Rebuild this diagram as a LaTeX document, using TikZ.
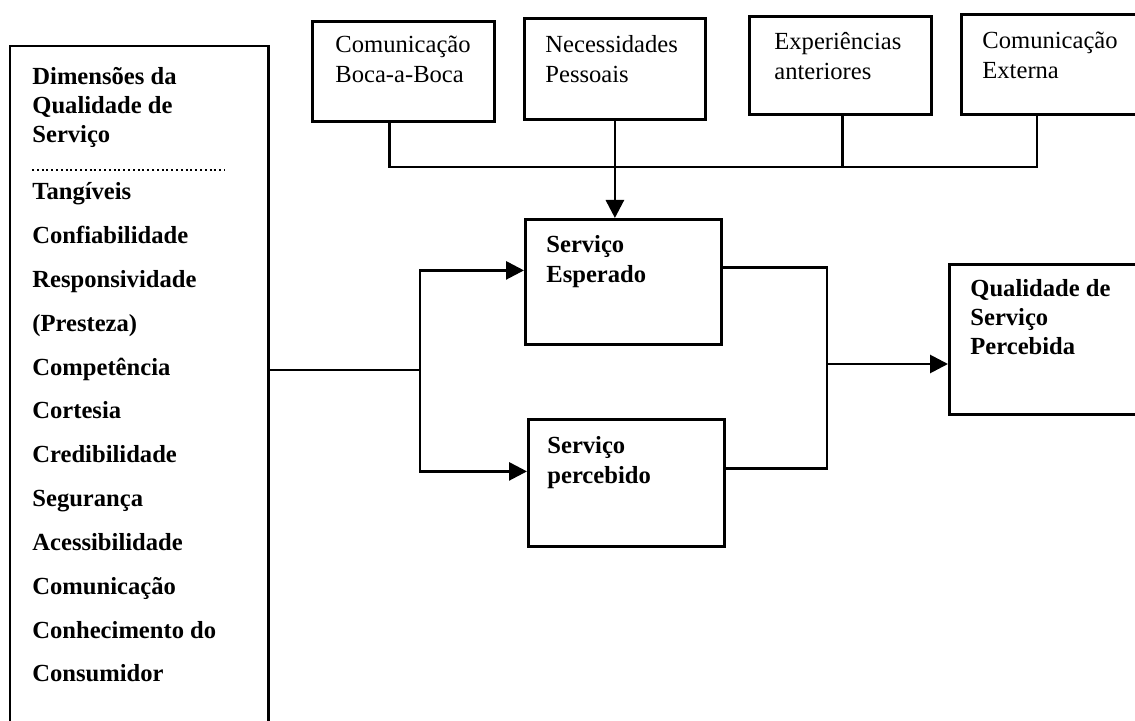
\documentclass[tikz,border=0pt]{standalone}
\usepackage{fontspec}
\setmainfont{Liberation Serif}
\usetikzlibrary{arrows.meta,positioning}

\tikzset{
  box/.style={draw, line width=1.4pt, anchor=north west, inner sep=0pt},
  boxtext/.style={anchor=base west, align=left, inner sep=0pt,
    font=\fontsize{12.3}{15}\selectfont},
  boldtext/.style={boxtext, font=\fontsize{12.3}{14.5}\selectfont\bfseries},
  link/.style={line width=1.4pt},
  flow/.style={link, -{Triangle[length=9pt,width=9pt]}},
}

\begin{document}
\begin{tikzpicture}[x=0.5pt, y=-0.5pt]
	\useasboundingbox (0,0) rectangle (1135,721);

	% top row of boxes (text anchored at its last baseline)
	\node[box, minimum width=91pt, minimum height=50pt] (boca) at (311,20) {};
	\node[box, minimum width=90.5pt, minimum height=50.5pt] (pessoais) at (523,17) {};
	\node[box, minimum width=91pt, minimum height=49pt] (anteriores) at (748,15) {};
	\node[box, minimum width=95pt, minimum height=50pt] (externa) at (960,13) {};

	\node[boxtext] (bocaT) at ([shift={(12pt,-31.5pt)}]boca.north west) {Comunicação\\Boca-a-Boca};
	\node[boxtext] (pessoaisT) at ([shift={(11pt,-33pt)}]pessoais.north west) {Necessidades\\Pessoais};
	\node[boxtext] (anterioresT) at ([shift={(13pt,-32.5pt)}]anteriores.north west) {Experiências\\anteriores};
	\node[boxtext] (externaT) at ([shift={(11pt,-33pt)}]externa.north west) {Comunicação\\Externa};

	% middle boxes
	\node[box, minimum width=98pt, minimum height=62.5pt] (esperado) at (524,218) {};
	\node[box, minimum width=98pt, minimum height=63.5pt] (percebido) at (527,418) {};
	\node[box, minimum width=100pt, minimum height=75pt] (qsp) at (948,263) {};

	\node[boldtext, font=\fontsize{12.3}{15}\selectfont\bfseries] (esperadoT) at ([shift={(11pt,-32.5pt)}]esperado.north west) {Serviço\\Esperado};
	\node[boldtext, font=\fontsize{12.3}{15}\selectfont\bfseries] (percebidoT) at ([shift={(10pt,-32.5pt)}]percebido.north west) {Serviço\\percebido};
	\node[boldtext] (qspT) at ([shift={(11pt,-46pt)}]qsp.north west) {Qualidade de\\Serviço\\Percebida};

	% left column
	\node[anchor=north west, inner sep=0pt, minimum width=129pt, minimum height=352pt] (dimbox) at (10,46) {};
	\draw[link] (dimbox.south west) |- (dimbox.north east) -- (dimbox.south east);
	\node[boldtext] (dimT) at (32,143) {Dimensões da\\Qualidade de\\Serviço};
	\draw[line width=1.1pt, dash pattern=on 1pt off 1.4pt] (32,170) -- (225,170);
	\foreach \t [count=\i] in {Tangíveis, Confiabilidade, Responsividade, (Presteza),
		Competência, Cortesia, Credibilidade, Segurança, Acessibilidade,
		Comunicação, Conhecimento do, Consumidor}
		\node[boldtext] (dim\i) at (32, {200+(\i-1)*43.8}) {\t};

	% connectors
	\coordinate (bus) at (0,167);
	\coordinate (split) at (420,370);
	\coordinate (join) at (827,364);

	\draw[link] ([xshift=-7pt]boca.south) -- ([xshift=-7pt]boca.south |- bus)
		-- ([xshift=38.5pt]externa.south west |- bus) -- ([xshift=38.5pt]externa.south west);
	\draw[link] ([xshift=1pt]anteriores.south) -- ([xshift=1pt]anteriores.south |- bus);
	\draw[flow] (pessoais.south) -- (pessoais.south |- esperado.north);

	\draw[link] (dimbox.east |- split) -- (split);
	\draw[flow] (split) |- ([yshift=5.75pt]esperado.west);
	\draw[flow] (split) |- ([yshift=5.75pt]percebido.west);

	\draw[link] ([yshift=7.25pt]esperado.east) -| (join) |- ([yshift=7.25pt]percebido.east);
	\draw[flow] (join) -- (join -| qsp.west);
\end{tikzpicture}
\end{document}
